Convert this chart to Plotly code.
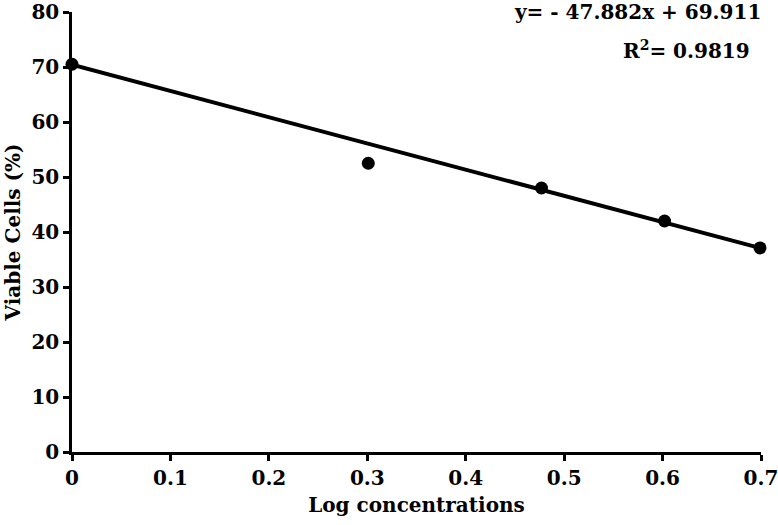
import plotly.graph_objects as go

log_conc = [0.0, 0.301, 0.477, 0.602, 0.699]
viable = [70.5, 52.5, 48.0, 42.0, 37.1]
fit_x = [0.0, 0.705]
fit_y = [70.4, 36.8]
x_ticks = [0, 0.1, 0.2, 0.3, 0.4, 0.5, 0.6, 0.7]
x_tick_labels = ["0", "0.1", "0.2", "0.3", "0.4", "0.5", "0.6", "0.7"]
y_ticks = [0, 10, 20, 30, 40, 50, 60, 70, 80]
eq_text = "y= - 47.882x + 69.911"
r2_text = "R<sup>2</sup>= 0.9819"

font_family = "DejaVu Serif"

fig = go.Figure()
fig.add_trace(go.Scatter(x=fit_x, y=fit_y, mode="lines",
                         line=dict(color="black", width=4), cliponaxis=False,
                         showlegend=False))
fig.add_trace(go.Scatter(x=log_conc, y=viable, mode="markers",
                         marker=dict(color="black", size=13), cliponaxis=False,
                         showlegend=False))

axis_common = dict(showline=True, linecolor="black", linewidth=2.5,
                   ticks="outside", tickcolor="black", tickwidth=2.5, ticklen=6,
                   showgrid=False, zeroline=False, automargin=False,
                   ticklabeloverflow="allow",
                   tickfont=dict(family=font_family, size=20, color="black", weight="bold"))

fig.update_xaxes(range=[0, 0.7], tickvals=x_ticks, ticktext=x_tick_labels,
                 title=dict(text="<b>Log concentrations</b>", standoff=10,
                            font=dict(family=font_family, size=20, color="black")),
                 **axis_common)
fig.update_yaxes(range=[0, 80], tickvals=y_ticks,
                 title=dict(text="<b>Viable Cells (%)</b>", standoff=6,
                            font=dict(family=font_family, size=20, color="black")),
                 **axis_common)

fig.add_annotation(text="<b>" + eq_text + "</b>", xref="paper", yref="paper",
                   x=1.003, y=1.0, xanchor="right", yanchor="middle", showarrow=False,
                   font=dict(family=font_family, size=20, color="black"))
fig.add_annotation(text="<b>" + r2_text + "</b>", xref="paper", yref="paper",
                   x=0.987, y=0.914, xanchor="right", yanchor="middle", showarrow=False,
                   font=dict(family=font_family, size=20, color="black"))

fig.update_layout(width=778, height=525, plot_bgcolor="white", paper_bgcolor="white",
                  margin=dict(l=72, r=17, t=12, b=73))

fig.write_html("out.html", config={"displayModeBar": False},
               post_script="document.body.style.margin='0';")
